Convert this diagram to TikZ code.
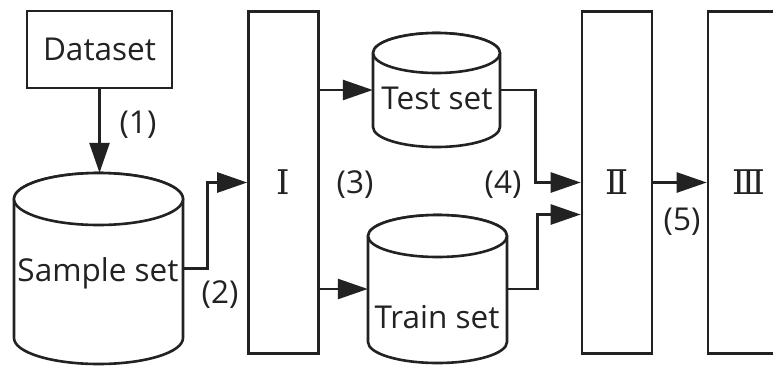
\documentclass[tikz,border=0pt]{standalone}
\usepackage{fontspec}
\setmainfont{Open Sans}
\newfontfamily\numfont{DejaVu Serif}
\usetikzlibrary{arrows.meta}
\definecolor{ink}{HTML}{222222}

% Cylinder outline: #1 left x, #2 right x, #3 top y, #4 bottom y, #5 cap half-height
\newcommand\drawdrum[5]{%
  \pgfmathsetmacro\dcx{(#1+#2)/2}%
  \pgfmathsetmacro\drx{(#2-#1)/2}%
  \path[drum] (#1,#3+#5) -- (#1,#4-#5)
    arc[start angle=180,end angle=360,x radius=\drx pt,y radius=#5 pt]
    -- (#2,#3+#5)
    arc[start angle=0,end angle=180,x radius=\drx pt,y radius=#5 pt] -- cycle;
  \draw[drum] (\dcx,#3+#5) ellipse[x radius=\drx pt,y radius=#5 pt];
}

\begin{document}
\begin{tikzpicture}[x=1pt,y=-1pt,
  every node/.style={font=\fontsize{31.5}{33}\selectfont, text=ink},
  line/.style={draw=ink,line width=2.6pt},
  arr/.style={line,-{Triangle[length=30pt,width=20pt]}},
  box/.style={draw=ink,line width=2.6pt,fill=white,inner sep=0pt},
  stage/.style={box,minimum width=70pt,minimum height=342pt,font=\numfont\fontsize{34}{36}\selectfont},
  area/.style={draw=none,inner sep=0pt},
  drum/.style={draw=ink,line width=2.6pt,fill=white,line join=round},
  tag/.style={inner sep=0pt}
]
\clip (0,0) rectangle (773,365);
\fill[white] (0,0) rectangle (773,365);

% source box
\node[box,minimum width=145pt,minimum height=77pt] (dataset) at (99.5,49.5) {Dataset};

% cylinders
\drawdrum{14}{183}{173}{364}{26}
\node[area,minimum width=169pt,minimum height=191pt] (sample) at (98.5,268.5) {};
\node[tag] (sampletxt) at (98,273) {Sample set};

\drawdrum{373}{500}{33}{147}{20}
\node[area,minimum width=127pt,minimum height=114pt] (test) at (436.5,90) {};
\node[tag] (testtxt) at (437,98) {Test set};

\drawdrum{368}{507}{215}{363}{21}
\node[area,minimum width=139pt,minimum height=148pt] (train) at (437.5,289) {};
\node[tag] (traintxt) at (437,317) {Train set};

% processing stages
\node[stage] (I) at (283.5,182.5) {Ⅰ};
\node[stage] (II) at (617,182.5) {Ⅱ};
\node[stage,minimum width=82pt] (III) at (749,182.5) {Ⅲ};

% connectors
\draw[arr] (dataset.south) -- (dataset.south |- sample.north);
\draw[arr] (sample.east) -- ++(24,0) |- (I.west);
\draw[arr] (I.east |- test.west) -- (test.west);
\draw[arr] (I.east |- train.west) -- (train.west);
\draw[arr] (test.east) -- ++(35,0) |- (II.west);
\draw[arr] (train.east) -- ++(30,0) |- ([yshift=-32pt]II.west);
\draw[arr] (II.east) -- (III.west);

% step labels
\node[tag] (l1) at (138,125) {(1)};
\node[tag] (l2) at (220,295) {(2)};
\node[tag] (l3) at (355,185) {(3)};
\node[tag] (l4) at (503,185) {(4)};
\node[tag] (l5) at (682,222) {(5)};
\end{tikzpicture}
\end{document}
